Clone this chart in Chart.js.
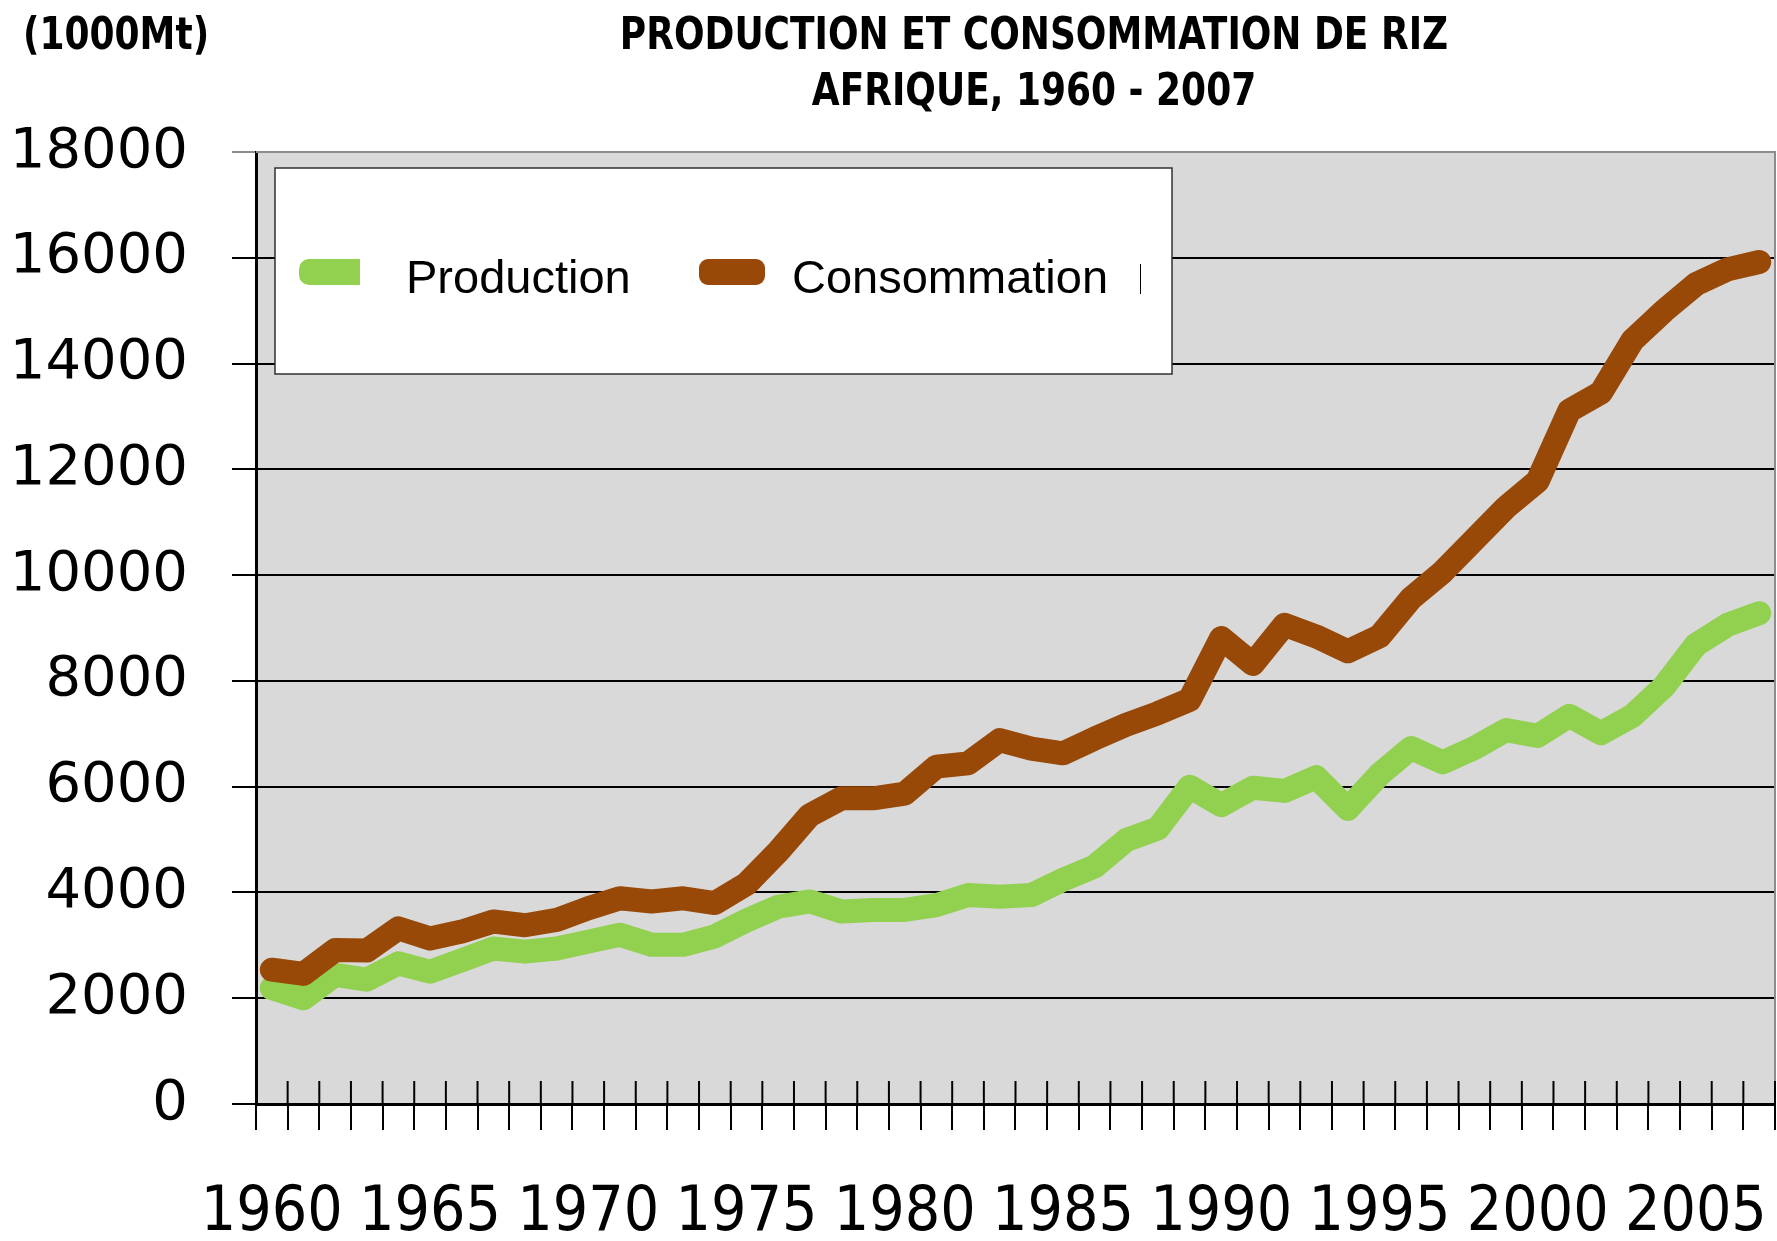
<!DOCTYPE html>
<html>
<head>
<meta charset="utf-8">
<script src="https://cdn.jsdelivr.net/npm/chart.js@4.4.1/dist/chart.umd.min.js"></script>
<style>
  html, body { margin: 0; padding: 0; background: #ffffff; }
  #wrap { width: 1777px; height: 1241px; position: relative; }
</style>
</head>
<body>
<div id="wrap"><canvas id="c" width="1777" height="1241"></canvas></div>
<script>
const years = [1960,1961,1962,1963,1964,1965,1966,1967,1968,1969,
               1970,1971,1972,1973,1974,1975,1976,1977,1978,1979,
               1980,1981,1982,1983,1984,1985,1986,1987,1988,1989,
               1990,1991,1992,1993,1994,1995,1996,1997,1998,1999,
               2000,2001,2002,2003,2004,2005,2006,2007];

const production = [2190,2000,2440,2350,2660,2500,2720,2940,2880,2940,
                    3070,3200,3010,3010,3170,3470,3730,3830,3640,3670,
                    3670,3760,3950,3920,3950,4240,4490,4990,5210,6000,
                    5650,5980,5920,6180,5580,6230,6730,6460,6730,7070,
                    6960,7340,7010,7340,7900,8680,9060,9280];

const consommation = [2540,2460,2910,2900,3320,3130,3260,3450,3380,3480,
                      3700,3890,3830,3890,3800,4160,4770,5460,5780,5780,
                      5870,6380,6440,6880,6720,6630,6910,7170,7390,7640,
                      8810,8320,9060,8840,8560,8840,9560,10060,10670,11280,
                      11780,13110,13450,14440,15000,15500,15780,15920];

const xTickLabels = ["1960","1965","1970","1975","1980","1985","1990","1995","2000","2005"];
const seriesNames = ["Production", "Consommation"];
const titleLines = ["PRODUCTION ET CONSOMMATION DE RIZ", "AFRIQUE, 1960 - 2007"];
const unitLabel = "(1000Mt)";

const GREEN = "#92D050";
const BROWN = "#984807";

function stretchedText(ctx, text, x, y, sy) {
  ctx.save();
  ctx.translate(x, y);
  ctx.scale(1, sy);
  ctx.fillText(text, 0, 0);
  ctx.restore();
}

const decorPlugin = {
  id: 'decor',
  beforeDraw(chart) {
    const ctx = chart.ctx;
    const a = chart.chartArea;
    ctx.save();
    ctx.fillStyle = '#ffffff';
    ctx.fillRect(0, 0, chart.width, chart.height);
    ctx.fillStyle = '#D9D9D9';
    ctx.fillRect(a.left, a.top, a.right - a.left, a.bottom - a.top);
    ctx.restore();
  },
  beforeDatasetsDraw(chart) {
    const ctx = chart.ctx;
    const a = chart.chartArea;
    const xs = chart.scales.x;
    ctx.save();
    ctx.strokeStyle = '#8c8c8c';
    ctx.lineWidth = 2;
    ctx.beginPath();
    ctx.moveTo(a.left, a.top);
    ctx.lineTo(a.right, a.top);
    ctx.lineTo(a.right, a.bottom);
    ctx.stroke();
    const n = chart.data.labels.length;
    const half = (xs.getPixelForValue(1) - xs.getPixelForValue(0)) / 2;
    ctx.strokeStyle = '#000000';
    ctx.lineWidth = 2;
    ctx.beginPath();
    for (let i = 0; i <= n; i++) {
      const px = i < n ? xs.getPixelForValue(i) - half : xs.getPixelForValue(n - 1) + half;
      ctx.moveTo(px, a.bottom - 23);
      ctx.lineTo(px, a.bottom);
    }
    ctx.stroke();
    ctx.restore();
  },
  afterDraw(chart) {
    const ctx = chart.ctx;
    ctx.save();
    ctx.fillStyle = '#000000';
    ctx.font = 'bold 40px "DejaVu Sans Condensed", "DejaVu Sans"';
    ctx.textBaseline = 'alphabetic';
    ctx.textAlign = 'center';
    stretchedText(ctx, titleLines[0], 1034, 49, 1.12);
    stretchedText(ctx, titleLines[1], 1034, 105, 1.12);
    ctx.textAlign = 'left';
    stretchedText(ctx, unitLabel, 23, 49, 1.12);

    ctx.fillStyle = '#ffffff';
    ctx.fillRect(275, 168, 897, 206);
    ctx.strokeStyle = '#303030';
    ctx.lineWidth = 1.5;
    ctx.strokeRect(275, 168, 897, 206);

    const ds = chart.data.datasets;
    ctx.fillStyle = ds[0].borderColor;
    ctx.beginPath();
    const r = 10;
    ctx.moveTo(360, 259);
    ctx.lineTo(299 + r, 259);
    ctx.arcTo(299, 259, 299, 259 + r, r);
    ctx.lineTo(299, 285 - r);
    ctx.arcTo(299, 285, 299 + r, 285, r);
    ctx.lineTo(360, 285);
    ctx.closePath();
    ctx.fill();
    ctx.fillStyle = ds[1].borderColor;
    ctx.beginPath();
    ctx.roundRect(699, 259, 66, 26, 9);
    ctx.fill();

    ctx.fillStyle = '#000000';
    ctx.font = '47px "Liberation Sans", Arial, sans-serif';
    ctx.textAlign = 'left';
    ctx.fillText(ds[0].label, 406, 293);
    ctx.fillText(ds[1].label, 792, 293);
    ctx.strokeStyle = '#000000';
    ctx.lineWidth = 1;
    ctx.beginPath();
    ctx.moveTo(1140.5, 264);
    ctx.lineTo(1140.5, 294);
    ctx.stroke();
    ctx.restore();
  }
};

new Chart(document.getElementById('c'), {
  type: 'line',
  data: {
    labels: years.map(String),
    datasets: [
      {
        label: seriesNames[0],
        data: production,
        borderColor: GREEN,
        backgroundColor: GREEN,
        borderWidth: 24,
        pointRadius: 0,
        tension: 0,
        borderCapStyle: 'round',
        borderJoinStyle: 'round',
        fill: false,
        order: 1
      },
      {
        label: seriesNames[1],
        data: consommation,
        borderColor: BROWN,
        backgroundColor: BROWN,
        borderWidth: 24,
        pointRadius: 0,
        tension: 0,
        borderCapStyle: 'round',
        borderJoinStyle: 'round',
        fill: false,
        order: 0
      }
    ]
  },
  options: {
    responsive: false,
    animation: false,
    layout: { padding: { top: 152, right: 2, left: 0, bottom: 0 } },
    plugins: {
      legend: { display: false },
      title: { display: false },
      tooltip: { enabled: false }
    },
    scales: {
      x: {
        type: 'category',
        offset: true,
        grid: {
          offset: true,
          drawOnChartArea: false,
          drawTicks: true,
          tickLength: 26,
          color: '#000000',
          lineWidth: 2
        },
        border: { display: true, color: '#000000', width: 3 },
        ticks: {
          autoSkip: false,
          maxRotation: 0,
          minRotation: 0,
          padding: 0,
          color: '#000000',
          font: { family: '"DejaVu Sans Condensed", "DejaVu Sans", sans-serif', size: 62, lineHeight: 2.71 },
          callback: function(val, idx) {
            const lab = this.getLabelForValue(val);
            return xTickLabels.includes(lab) ? lab : '';
          }
        },
        afterFit(scale) { scale.height = 137; }
      },
      y: {
        min: 0,
        max: 18000,
        grid: {
          color: (c) => (c.tick && c.tick.value === 18000) ? '#8c8c8c' : '#000000',
          lineWidth: 2,
          tickLength: 24,
          drawTicks: true
        },
        border: { display: true, color: '#000000', width: 3 },
        ticks: {
          stepSize: 2000,
          padding: 44,
          color: '#000000',
          font: { family: '"DejaVu Sans", sans-serif', size: 56 },
          callback: (v) => String(v)
        },
        afterFit(scale) { scale.width = 256; }
      }
    }
  },
  plugins: [decorPlugin]
});
</script>
</body>
</html>
